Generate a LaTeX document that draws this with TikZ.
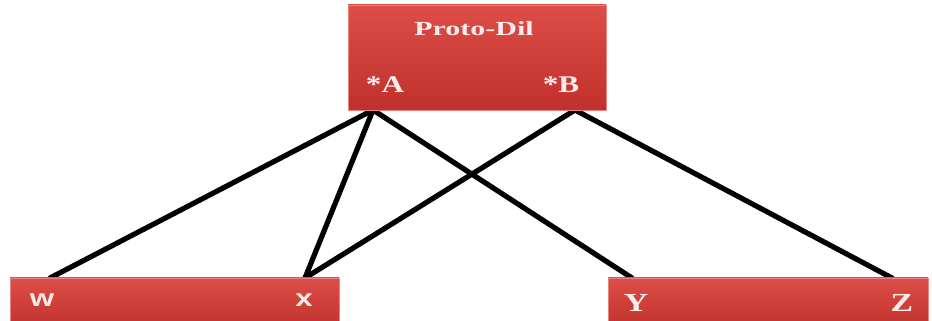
\documentclass[tikz,border=0pt]{standalone}
\usepackage{fontspec}
\setmainfont{Liberation Serif}
\newfontfamily\boxserif[FakeStretch=1.3]{Liberation Serif}
\newfontfamily\titleserif[FakeStretch=1.5]{Liberation Serif}
\newfontfamily\boxsans[FakeStretch=1.3]{Liberation Sans}
\usetikzlibrary{positioning}
\definecolor{boxred}{RGB}{192,48,44}
\definecolor{boxtop}{RGB}{222,78,72}
\definecolor{boxtext}{RGB}{250,236,234}
\tikzset{
  redbox/.style={rectangle, draw=boxtop!70!white, line width=0.6pt,
    top color=boxtop, bottom color=boxred, inner sep=0pt},
  link/.style={line width=5.2pt, line cap=round},
  serlabel/.style={text=boxtext, inner sep=0pt, font=\boxserif\bfseries},
  sanlabel/.style={text=boxtext, inner sep=0pt, font=\boxsans\bfseries}
}

\begin{document}
\begin{tikzpicture}[x=1pt,y=1pt]
  \useasboundingbox (0,0) rectangle (932,321);

  % line ends
  \coordinate (pA) at (373,211);
  \coordinate (pB) at (575,211);
  \coordinate (pW) at (50,43);
  \coordinate (pX) at (305,43);
  \coordinate (pY) at (632,43);
  \coordinate (pZ) at (892,43);

  \draw[link] (pA) -- (pW);
  \draw[link] (pA) -- (pX);
  \draw[link] (pA) -- (pY);
  \draw[link] (pB) -- (pX);
  \draw[link] (pB) -- (pZ);

  % boxes
  \node[redbox, minimum width=258pt, minimum height=105pt] (protodil) at (477,263.5) {};
  \node[redbox, minimum width=329pt, minimum height=53pt] (leftbox) at (174.5,16.5) {};
  \node[redbox, minimum width=320pt, minimum height=53pt] (rightbox) at (768,16.5) {};

  % labels
  \node[serlabel, font=\titleserif\bfseries\fontsize{20}{20}\selectfont] (title) at (474,292.5) {Proto-Dil};
  \node[serlabel, font=\boxserif\bfseries\fontsize{24}{24}\selectfont] (starA) at (385,236) {*A};
  \node[serlabel, font=\boxserif\bfseries\fontsize{24}{24}\selectfont] (starB) at (561,236) {*B};
  \node[sanlabel, font=\boxsans\bfseries\fontsize{24}{24}\selectfont] (w) at (42,21) {w};
  \node[sanlabel, font=\boxsans\bfseries\fontsize{24}{24}\selectfont] (x) at (304,21) {x};
  \node[serlabel, font=\boxserif\bfseries\fontsize{26}{26}\selectfont] (y) at (636,18.5) {Y};
  \node[serlabel, font=\boxserif\bfseries\fontsize{26}{26}\selectfont] (z) at (902,18.5) {Z};
\end{tikzpicture}
\end{document}
